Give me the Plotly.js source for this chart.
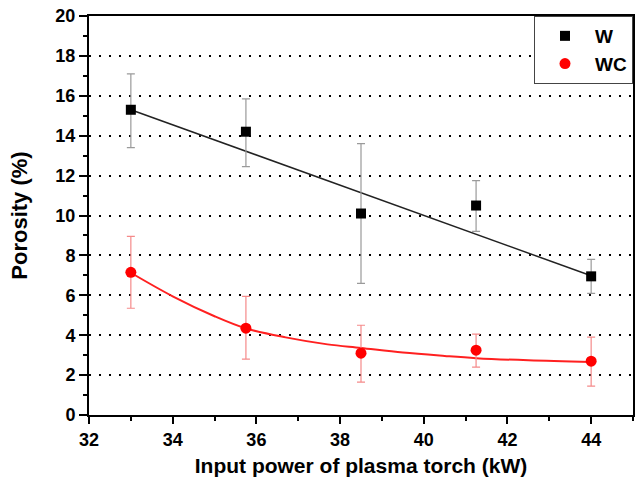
<!DOCTYPE html>
<html><head><meta charset="utf-8">
<script src="https://cdn.plot.ly/plotly-3.0.1.min.js"></script>
<style>html,body{margin:0;padding:0;background:#fff}#chart{width:638px;height:483px}</style>
</head><body><div id="chart"></div>
<script>
// Data
const power = [33, 35.75, 38.5, 41.25, 44];
const wPorosity = [15.3, 14.2, 10.1, 10.5, 6.95];
const wErrPlus = [1.8, 1.65, 3.5, 1.25, 0.85];
const wErrMinus = [1.9, 1.75, 3.5, 1.3, 0.85];
const wcPorosity = [7.15, 4.35, 3.1, 3.25, 2.7];
const wcErrPlus = [1.8, 1.6, 1.4, 0.8, 1.2];
const wcErrMinus = [1.8, 1.55, 1.45, 0.85, 1.25];
// fitted lines
const wFitX = [33, 44];
const wFitY = [15.3, 6.98];
const wcFitX = [33, 34, 35, 35.75, 36.7, 37.7, 38.5, 39.5, 40.5, 41.25, 42.5, 44];
const wcFitY = [7.13, 5.95, 4.95, 4.34, 3.89, 3.54, 3.36, 3.13, 2.96, 2.85, 2.74, 2.66];
const xTicks = [32, 34, 36, 38, 40, 42, 44];
const yTicks = [0, 2, 4, 6, 8, 10, 12, 14, 16, 18, 20];

const FONT = 'Liberation Sans, Arial, sans-serif';
const traces = [
  {x: wFitX, y: wFitY, mode: 'lines', line: {color: '#222', width: 1.5}, showlegend: false, hoverinfo: 'skip'},
  {x: wcFitX, y: wcFitY, mode: 'lines', line: {color: '#ff2020', width: 2, shape: 'spline'}, showlegend: false, hoverinfo: 'skip'},
  {x: power, y: wPorosity, name: '<b>W</b>', mode: 'markers',
   marker: {symbol: 'square', size: 10, color: '#000'},
   error_y: {type: 'data', symmetric: false, array: wErrPlus, arrayminus: wErrMinus, color: '#9a9a9a', thickness: 1.2, width: 4}},
  {x: power, y: wcPorosity, name: '<b>WC</b>', mode: 'markers',
   marker: {symbol: 'circle', size: 11, color: '#ff0000'},
   error_y: {type: 'data', symmetric: false, array: wcErrPlus, arrayminus: wcErrMinus, color: '#f58a8a', thickness: 1.2, width: 4}}
];

const layout = {
  width: 638, height: 483,
  margin: {l: 89, r: 5, t: 16, b: 68},
  paper_bgcolor: '#fff', plot_bgcolor: '#fff',
  font: {family: FONT, color: '#000', size: 18},
  xaxis: {
    range: [32, 45], tickmode: 'array', tickvals: xTicks, ticktext: xTicks.map(v => '<b>' + v + '</b>'),
    showgrid: false, zeroline: false,
    showline: true, linecolor: '#000', linewidth: 2, mirror: true,
    ticks: 'outside', ticklen: 7, tickwidth: 2, tickcolor: '#000',
    minor: {dtick: 1, tick0: 32, ticks: 'outside', ticklen: 4, tickwidth: 2, tickcolor: '#000', showgrid: false},
    tickfont: {size: 18, family: FONT, color: '#000'},
    title: {text: '<b>Input power of plasma torch (kW)</b>', font: {size: 21, family: FONT}, standoff: 10}
  },
  yaxis: {
    range: [0, 20], tickmode: 'array', tickvals: yTicks, ticktext: yTicks.map(v => '<b>' + v + '</b>'),
    showgrid: true, gridcolor: '#000', gridwidth: 2, griddash: '2px,8px',
    zeroline: false,
    showline: true, linecolor: '#000', linewidth: 2, mirror: true,
    ticks: 'outside', ticklen: 8, tickwidth: 2, tickcolor: '#000',
    minor: {dtick: 1, tick0: 0, ticks: 'outside', ticklen: 4, tickwidth: 2, tickcolor: '#000', showgrid: false},
    tickfont: {size: 18, family: FONT, color: '#000'},
    title: {text: '<b>Porosity (%)</b>', font: {size: 22, family: FONT}, standoff: 22}
  },
  legend: {x: 1, xanchor: 'right', y: 1, yanchor: 'top', bgcolor: '#fff',
    bordercolor: '#444', borderwidth: 1,
    font: {size: 19, family: FONT},
    itemwidth: 50, tracegroupgap: 0}
};
Plotly.newPlot('chart', traces, layout, {displayModeBar: false, staticPlot: true});
</script></body></html>
